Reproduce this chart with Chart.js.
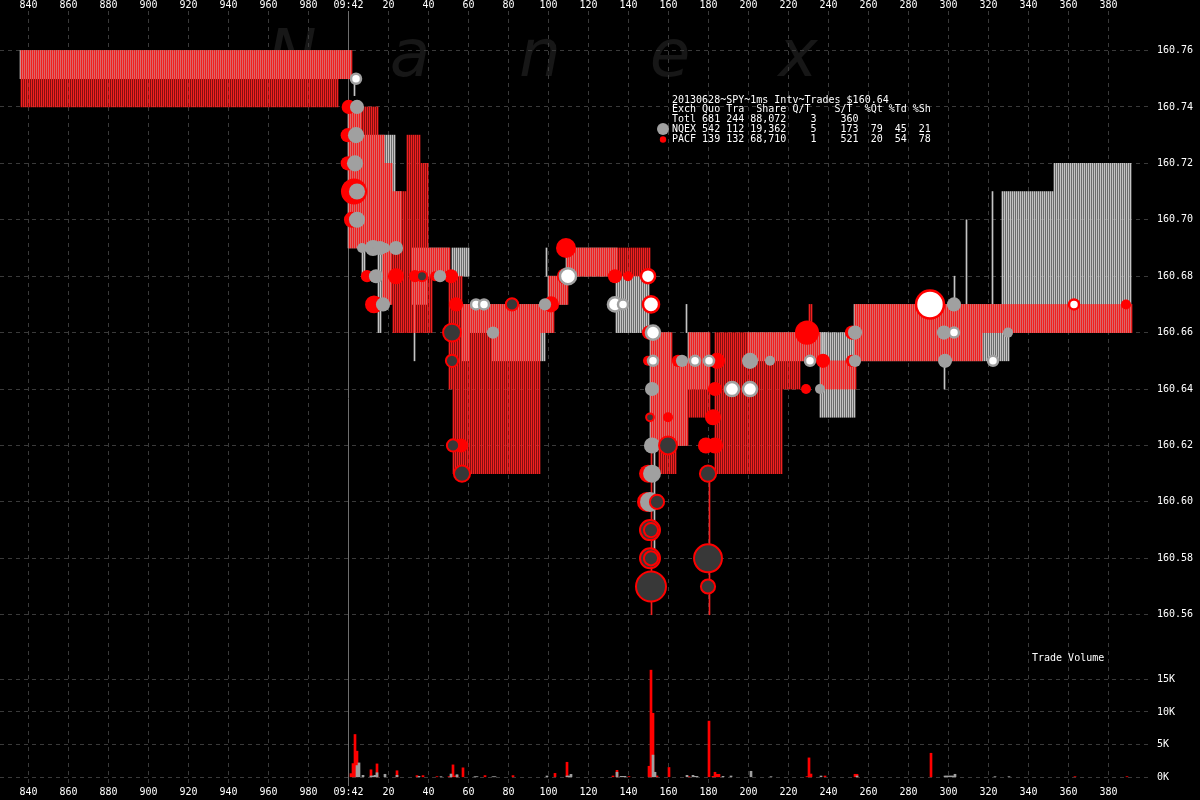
<!DOCTYPE html>
<html><head><meta charset="utf-8">
<style>html,body{margin:0;padding:0;background:#000;overflow:hidden}canvas{display:block}</style>
<script src="https://cdn.jsdelivr.net/npm/chart.js@4.4.0/dist/chart.umd.min.js"></script>
</head><body>
<canvas id="c" width="1200" height="800"></canvas>
<script>
// ---- ticks (time in ms relative to 09:42:00.000) ----
const X_TICKS = [-160,-140,-120,-100,-80,-60,-40,-20,0,20,40,60,80,100,120,140,160,180,200,220,240,260,280,300,320,340,360,380];
const X_TICK_LABELS = ['840','860','880','900','920','940','960','980','09:42','20','40','60','80','100','120','140','160','180','200','220','240','260','280','300','320','340','360','380'];
const PRICE_TICKS = [160.56,160.58,160.60,160.62,160.64,160.66,160.68,160.70,160.72,160.74,160.76];
const VOL_TICKS = [0,5000,10000,15000];
const VOL_TICK_LABELS = ['0K','5K','10K','15K'];

// ---- quotes: [fromMs, toMs, bid, ask] ----
const NQEX_QUOTES = [
 [-164,2,160.75,160.76],[3,4,160.744,160.75],[0,7,160.69,160.74],[7,24,160.69,160.73],[24,27,160.69,160.71],
 [7,9,160.68,160.69],[15,17,160.66,160.69],[17,22,160.67,160.69],[32,40,160.67,160.69],[33,34,160.65,160.67],
 [40,51,160.68,160.69],[52,61,160.68,160.69],[57,61,160.65,160.67],[61,72,160.66,160.67],[72,99,160.65,160.67],
 [99,103,160.66,160.67],[99,100,160.68,160.69],[100,110,160.67,160.68],[109,135,160.68,160.69],[134,151,160.66,160.68],
 [151,162,160.62,160.66],[153,154,160.58,160.62],[162,170,160.62,160.65],[169,170,160.66,160.67],[170,181,160.64,160.66],
 [200,239,160.65,160.66],[236,254,160.63,160.66],[253,331,160.65,160.67],[298,299,160.64,160.65],[303,304,160.67,160.68],
 [309,310,160.67,160.70],[322,323,160.67,160.71],[327,353,160.66,160.71],[353,392,160.66,160.72]
];
const PACF_QUOTES = [
 [-164,-5,160.74,160.76],[-5,2,160.75,160.76],[0,15,160.69,160.74],[15,17,160.69,160.73],[17,18,160.67,160.73],
 [18,22,160.67,160.72],[22,29,160.66,160.71],[29,36,160.66,160.73],[36,40,160.66,160.72],[40,42,160.66,160.69],
 [42,51,160.68,160.69],[50,52,160.64,160.68],[52,57,160.61,160.68],[57,96,160.61,160.67],[96,103,160.66,160.67],
 [100,110,160.67,160.68],[109,151,160.68,160.69],[151,152,160.56,160.62],[151,162,160.62,160.66],[155,164,160.61,160.62],
 [162,170,160.62,160.65],[170,181,160.63,160.66],[180,181,160.56,160.61],[183,217,160.61,160.66],[217,226,160.64,160.66],
 [226,236,160.65,160.66],[230,232,160.66,160.67],[236,254,160.64,160.65],[253,317,160.65,160.67],[317,392,160.66,160.67]
];

// ---- trades: [ms, price, shares] ----
const NQEX_TRADES = [
 [4.25,160.74,200],[3.75,160.73,260],[3.25,160.72,260],[4.25,160.71,260],[4.25,160.70,260],
 [6.75,160.69,100],[12.25,160.69,260],[15.75,160.69,200],[18.25,160.69,100],[23.75,160.69,200],
 [13.75,160.68,200],[45.75,160.68,150],[17.25,160.67,200],[98.25,160.67,150],[72.25,160.66,150],
 [151.75,160.64,200],[151.75,160.62,260],[151.75,160.61,320],[150.75,160.60,400],
 [166.75,160.65,150],[200.75,160.65,260],[210.75,160.65,100],[235.75,160.64,100],
 [253.25,160.66,200],[253.25,160.65,150],[302.75,160.67,200],[297.75,160.66,200],[298.25,160.65,200],[329.75,160.66,100]
];
const NQEX_AT_ASK = [
 [3.75,160.75,100],[63.75,160.67,100],[67.75,160.67,100],[109.75,160.68,260],[133.25,160.67,200],[137.25,160.67,100],
 [152.25,160.66,200],[152.25,160.65,100],[173.25,160.65,100],[180.25,160.65,100],[191.75,160.64,200],[200.75,160.64,200],
 [230.75,160.65,100],[302.75,160.66,100],[322.25,160.65,100]
];
const PACF_TRADES = [
 [0.1,160.74,200],[-0.4,160.73,200],[-0.4,160.72,200],[2.75,160.71,680],[1.75,160.70,260],
 [9.25,160.68,150],[23.75,160.68,260],[33.25,160.68,150],[43.25,160.68,100],[51.25,160.68,200],
 [12.75,160.67,320],[53.75,160.67,200],[101.25,160.67,260],[56.25,160.62,200],
 [108.75,160.69,400],[108.25,160.68,260],[133.25,160.68,200],[139.75,160.68,100],
 [159.75,160.63,100],[184.25,160.65,260],[183.25,160.64,200],[182.25,160.63,260],[178.75,160.62,260],[183.25,160.62,260],
 [229.25,160.66,580],[237.25,160.65,200],[228.75,160.64,100],[388.75,160.67,100],
 [251.75,160.66,200],[251.75,160.65,150],[149.75,160.65,100],[150.25,160.66,200],[164.75,160.65,150],[149.75,160.61,320],[149.25,160.60,400]
];
const PACF_AT_ASK = [
 [149.75,160.68,200],[151.25,160.67,260],[290.75,160.67,780],[362.75,160.67,100]
];
const PACF_AT_BID = [
 [36.75,160.68,100],[81.75,160.67,150],[51.75,160.66,320],[51.75,160.65,150],[52.25,160.62,150],[56.75,160.61,260],
 [150.75,160.63,60],[159.75,160.62,320],[154.25,160.60,200],[150.75,160.59,400],[151.25,160.59,200],
 [150.75,160.58,400],[151.25,160.58,200],[151.25,160.57,900],
 [179.75,160.61,260],[179.75,160.58,780],[179.75,160.57,200]
];

// ---- trade volume per ms: [ms, shares] ----
const VOL_PACF = [
 [1,560],[2,2100],[3,6550],[4,4000],[11,1150],[14,2050],[24,1000],[34,260],[37,260],[44,100],[50,100],[51,200],
 [52,1900],[53,200],[54,300],[57,1450],[68,260],[82,260],[103,600],[109,2300],[132,200],[134,1070],[140,100],
 [150,1690],[151,16400],[152,9800],[154,200],[160,1500],[170,100],[180,8600],[182,150],[183,770],[184,460],[185,460],
 [229,100],[230,2970],[231,500],[238,200],[253,460],[254,460],[291,3680],[363,100],[389,100]
];
const VOL_NQEX = [
 [4,1800],[5,2200],[7,300],[11,200],[12,200],[13,300],[14,700],[18,460],[24,300],[35,150],[46,100],[51,500],[54,400],
 [63,100],[64,100],[72,100],[73,100],[99,200],[109,200],[110,200],[111,450],[134,770],[136,150],[137,150],[138,150],
 [152,3400],[153,770],[169,300],[172,300],[173,150],[174,150],[187,150],[191,200],[201,920],[211,100],[236,200],
 [254,200],[298,200],[299,200],[300,200],[301,200],[302,200],[303,460],[323,100],[330,100]
];

const LEGEND_LINES = [
 '20130628~SPY~1ms Intv~Trades $160.64',
 'Exch Quo Tra  Share Q/T    S/T  %Qt %Td %Sh',
 'Totl 681 244 88,072    3    360',
 'NQEX 542 112 19,362    5    173  79  45  21',
 'PACF 139 132 68,710    1    521  20  54  78'
];

// ---- build datasets ----
function quoteBars(segs, off){
  const out=[];
  for(const [a,b,lo,hi] of segs){ for(let t=a;t<b;t++) out.push({x:t+off,y:[lo,hi]}); }
  return out;
}
const trades = arr => arr.map(([t,p,s])=>({x:t,y:p,s}));
const vols = arr => arr.map(([t,v])=>({x:t+0.25,y:v}));
const rad = ctx => (ctx.raw ? 0.5*Math.sqrt(ctx.raw.s) : 0);

const FONT = {family:'"DejaVu Sans Mono", monospace', size:10};
const GRID = '#3a3a3a';

const bg = {
  id:'bg',
  beforeDraw(chart){
    const c=chart.ctx; c.save();
    c.fillStyle='#000'; c.fillRect(0,0,chart.width,chart.height);
    c.fillStyle='#171717'; c.font='italic 66px "DejaVu Sans"'; c.textAlign='center'; c.textBaseline='alphabetic';
    [['N',292],['a',410],['n',540],['e',670],['x',798]].forEach(([ch,x])=>c.fillText(ch,x,76));
    c.restore();
  },
  afterDraw(chart){
    const c=chart.ctx; c.save();
    c.font='10px "DejaVu Sans Mono", monospace'; c.fillStyle='#fff'; c.textBaseline='middle'; c.textAlign='left';
    // volume axis tick labels
    const yv = chart.scales.yv;
    VOL_TICKS.forEach((v,i)=>c.fillText(VOL_TICK_LABELS[i], chart.chartArea.right+6, yv.getPixelForValue(v)));
    LEGEND_LINES.forEach((s,i)=>c.fillText(s,672,100+i*9.8));
    c.fillStyle='#a0a0a0'; c.beginPath(); c.arc(663,129,6,0,Math.PI*2); c.fill();
    c.fillStyle='#ff0000'; c.beginPath(); c.arc(663,139.5,3.2,0,Math.PI*2); c.fill();
    c.fillStyle='#fff'; c.fillText('Trade Volume',1032,658);
    c.restore();
  }
};

const noPad = s => { s.paddingLeft = 0; s.paddingRight = 0; s.paddingTop = 0; s.paddingBottom = 0; };

const xCommon = {
  type:'linear', min:-174.25, max:401.25, offset:false,
  afterBuildTicks: s => { s.ticks = X_TICKS.map(v=>({value:v})); },
  ticks:{color:'#fff', font:FONT, padding:0, autoSkip:false, maxRotation:0, minRotation:0,
    callback: v => X_TICK_LABELS[X_TICKS.indexOf(v)]}
};

new Chart(document.getElementById('c'), {
  type:'bar',
  data:{ datasets:[
    {type:'scatter', label:'PACF at bid', data:trades(PACF_AT_BID), order:1,
     pointRadius:rad, pointBackgroundColor:'#383838', pointBorderColor:'#ff0000', pointBorderWidth:2, yAxisID:'y'},
    {type:'scatter', label:'NQEX at ask', data:trades(NQEX_AT_ASK), order:2,
     pointRadius:rad, pointBackgroundColor:'#ffffff', pointBorderColor:'#a0a0a0', pointBorderWidth:2.5, yAxisID:'y'},
    {type:'scatter', label:'NQEX', data:trades(NQEX_TRADES), order:3,
     pointRadius:rad, pointBackgroundColor:'#a0a0a0', pointBorderColor:'#a0a0a0', pointBorderWidth:0, yAxisID:'y'},
    {type:'scatter', label:'PACF at ask', data:trades(PACF_AT_ASK), order:4,
     pointRadius:rad, pointBackgroundColor:'#ffffff', pointBorderColor:'#ff0000', pointBorderWidth:2.5, yAxisID:'y'},
    {type:'scatter', label:'PACF', data:trades(PACF_TRADES), order:5,
     pointRadius:rad, pointBackgroundColor:'#ff0000', pointBorderColor:'#ff0000', pointBorderWidth:0, yAxisID:'y'},
    {type:'bar', label:'NQEX vol', data:vols(VOL_NQEX), order:6, backgroundColor:'#a0a0a0', barThickness:2, grouped:false, yAxisID:'yv'},
    {type:'bar', label:'PACF vol', data:vols(VOL_PACF), order:7, backgroundColor:'#ff0000', barThickness:2, grouped:false, yAxisID:'yv'},
    {type:'bar', label:'PACF quote', data:quoteBars(PACF_QUOTES,0.5), order:8, backgroundColor:'#f02020', barThickness:1, grouped:false, yAxisID:'y'},
    {type:'bar', label:'NQEX quote', data:quoteBars(NQEX_QUOTES,0), order:9, backgroundColor:'#c4c4c4', barThickness:1, grouped:false, yAxisID:'y'}
  ]},
  options:{
    responsive:false, animation:false, devicePixelRatio:1, events:[],
    layout:{padding:0, autoPadding:false},
    plugins:{legend:{display:false}, tooltip:{enabled:false}},
    scales:{
      x: Object.assign({}, xCommon, {position:'top',
        afterFit: s => { s.height = 11; noPad(s); },
        grid:{color: c => (c.tick && c.tick.value===0) ? '#6e6e6e' : GRID, drawTicks:false, offset:false, lineWidth:1},
        border:{display:false, dash: c => (c.tick && c.tick.value===0) ? [] : [4,4]}}),
      x2: Object.assign({}, xCommon, {position:'bottom',
        afterFit: s => { s.height = 14; noPad(s); },
        grid:{display:false, drawTicks:false, offset:false}, border:{display:false}}),
      y:{type:'linear', position:'right', min:160.4993, max:160.774,
        afterBuildTicks: s => { s.ticks = PRICE_TICKS.map(v=>({value:v})); },
        afterFit: s => { s.width = 49; noPad(s); },
        ticks:{color:'#fff', font:FONT, padding:6, autoSkip:false, callback: v => Number(v).toFixed(2)},
        grid:{color:GRID, drawTicks:false}, border:{display:false, dash:[4,4]}},
      yv:{type:'linear', position:'right', min:-1332, max:117290, display:true,
        afterBuildTicks: s => { s.ticks = VOL_TICKS.map(v=>({value:v})); },
        afterFit: s => { s.width = 0; noPad(s); },
        ticks:{display:false, autoSkip:false},
        grid:{color:GRID, drawTicks:false}, border:{display:false, dash:[4,4]}}
    }
  },
  plugins:[bg]
});
</script>
</body></html>
